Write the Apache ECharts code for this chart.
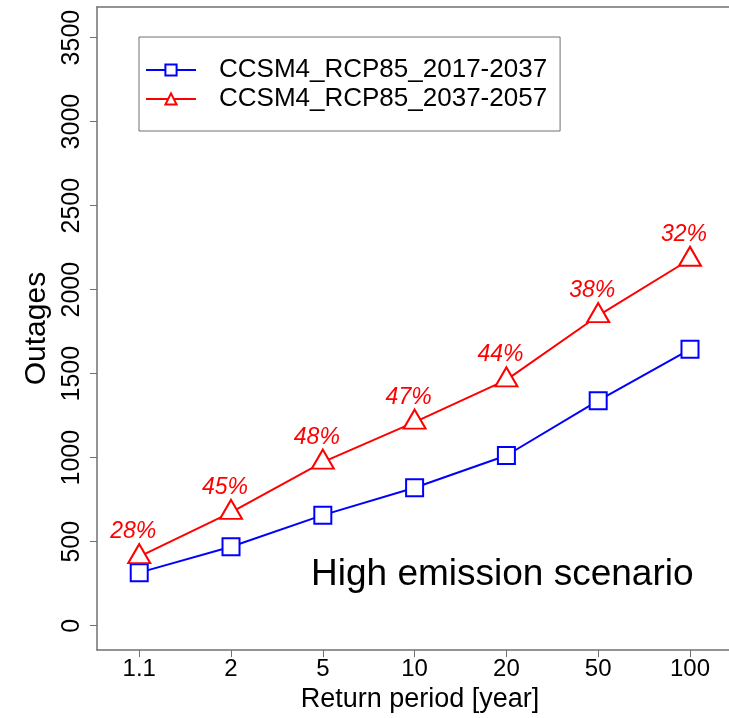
<!DOCTYPE html>
<html>
<head>
<meta charset="utf-8">
<script src="https://cdn.jsdelivr.net/npm/echarts@6/dist/echarts.min.js"></script>
<style>
html,body{margin:0;padding:0;background:#fff;overflow:hidden;}
#chart{width:729px;height:718px;}
</style>
</head>
<body>
<div id="chart"></div>
<script>
const categories = ['1.1', '2', '5', '10', '20', '50', '100'];
const seriesNames = ['CCSM4_RCP85_2017-2037', 'CCSM4_RCP85_2037-2057'];
const outages2017 = [316, 470, 658, 821, 1013, 1339, 1645];
const outages2037 = [411, 675, 974, 1212, 1463, 1845, 2181];
const percentLabels = ['28%', '45%', '48%', '47%', '44%', '38%', '32%'];
const yTicks = [0, 500, 1000, 1500, 2000, 2500, 3000, 3500];
const annotation = 'High emission scenario';

const FONT = 'Liberation Sans, Arial, Helvetica, sans-serif';
const AXIS_COLOR = '#707070';
const xPos = categories.map((c, i) => i + 1);
const toData = arr => arr.map((v, i) => [xPos[i], v]);
const X_MIN = 0.54, X_MAX = 7.425;

const chart = echarts.init(document.getElementById('chart'), null, {renderer: 'canvas'});
chart.setOption({
  animation: false,
  backgroundColor: '#ffffff',
  grid: {left: 97, top: 7, right: 0, bottom: 65, show: false},
  legend: {
    left: 139, top: 37,
    orient: 'vertical',
    padding: [20, 13, 19, 6],
    borderColor: AXIS_COLOR, borderWidth: 1, borderRadius: 0,
    itemWidth: 50, itemHeight: 14, itemGap: 3,
    textStyle: {fontFamily: FONT, fontSize: 26, color: '#000', lineHeight: 26, padding: [0, 0, 0, 18]},
    data: seriesNames
  },
  xAxis: [{
    type: 'value',
    min: X_MIN, max: X_MAX,
    name: 'Return period [year]',
    nameLocation: 'middle',
    nameGap: 33,
    nameTextStyle: {fontFamily: FONT, fontSize: 27, color: '#000', padding: [0, 0, 0, 14]},
    axisLine: {show: true, onZero: false, lineStyle: {color: AXIS_COLOR, width: 1.5}},
    axisTick: {show: true, inside: false, length: 7, lineStyle: {color: AXIS_COLOR}, customValues: xPos},
    axisLabel: {
      fontFamily: FONT, fontSize: 24, color: '#000', margin: 7,
      customValues: xPos,
      formatter: v => categories[Math.round(v) - 1] || ''
    },
    splitLine: {show: false}
  }, {
    type: 'value',
    position: 'top',
    min: X_MIN, max: X_MAX,
    axisLine: {show: true, onZero: false, lineStyle: {color: AXIS_COLOR, width: 1.5}},
    axisTick: {show: false},
    axisLabel: {show: false},
    splitLine: {show: false}
  }],
  yAxis: {
    type: 'value',
    min: -145, max: 3682,
    name: 'Outages',
    nameLocation: 'middle',
    nameGap: 43,
    nameTextStyle: {fontFamily: FONT, fontSize: 30, color: '#000'},
    axisLine: {show: true, onZero: false, lineStyle: {color: AXIS_COLOR, width: 1.5}},
    axisTick: {show: true, inside: false, length: 7, lineStyle: {color: AXIS_COLOR}, customValues: yTicks},
    axisLabel: {
      fontFamily: FONT, fontSize: 25, color: '#000', margin: 12, rotate: 90,
      customValues: yTicks,
      formatter: v => String(v)
    },
    splitLine: {show: false}
  },
  series: [
    {
      name: seriesNames[0],
      type: 'line',
      xAxisIndex: 0,
      data: toData(outages2017),
      symbol: 'rect',
      symbolSize: 17,
      lineStyle: {color: '#0000ff', width: 2},
      itemStyle: {color: '#ffffff', borderColor: '#0000ff', borderWidth: 2},
      emphasis: {disabled: true}
    },
    {
      name: seriesNames[1],
      type: 'line',
      xAxisIndex: 0,
      data: toData(outages2037),
      symbol: 'triangle',
      symbolSize: [22, 19],
      symbolOffset: [0, -3],
      lineStyle: {color: '#ff0000', width: 2},
      itemStyle: {color: '#ffffff', borderColor: '#ff0000', borderWidth: 2},
      label: {
        show: true,
        position: 'top',
        distance: 0,
        offset: [-6, 0],
        fontFamily: FONT, fontSize: 23, fontStyle: 'italic', color: '#ff0000',
        formatter: p => percentLabels[p.dataIndex]
      },
      emphasis: {disabled: true}
    }
  ],
  graphic: [{
    type: 'text',
    left: 311, top: 556,
    style: {text: annotation, font: '37px ' + FONT, fill: '#000'}
  }, {
    type: 'rect',
    right: 0, top: 14,
    z: 100,
    shape: {width: 5, height: 630},
    style: {fill: '#ffffff'}
  }]
});
</script>
</body>
</html>
